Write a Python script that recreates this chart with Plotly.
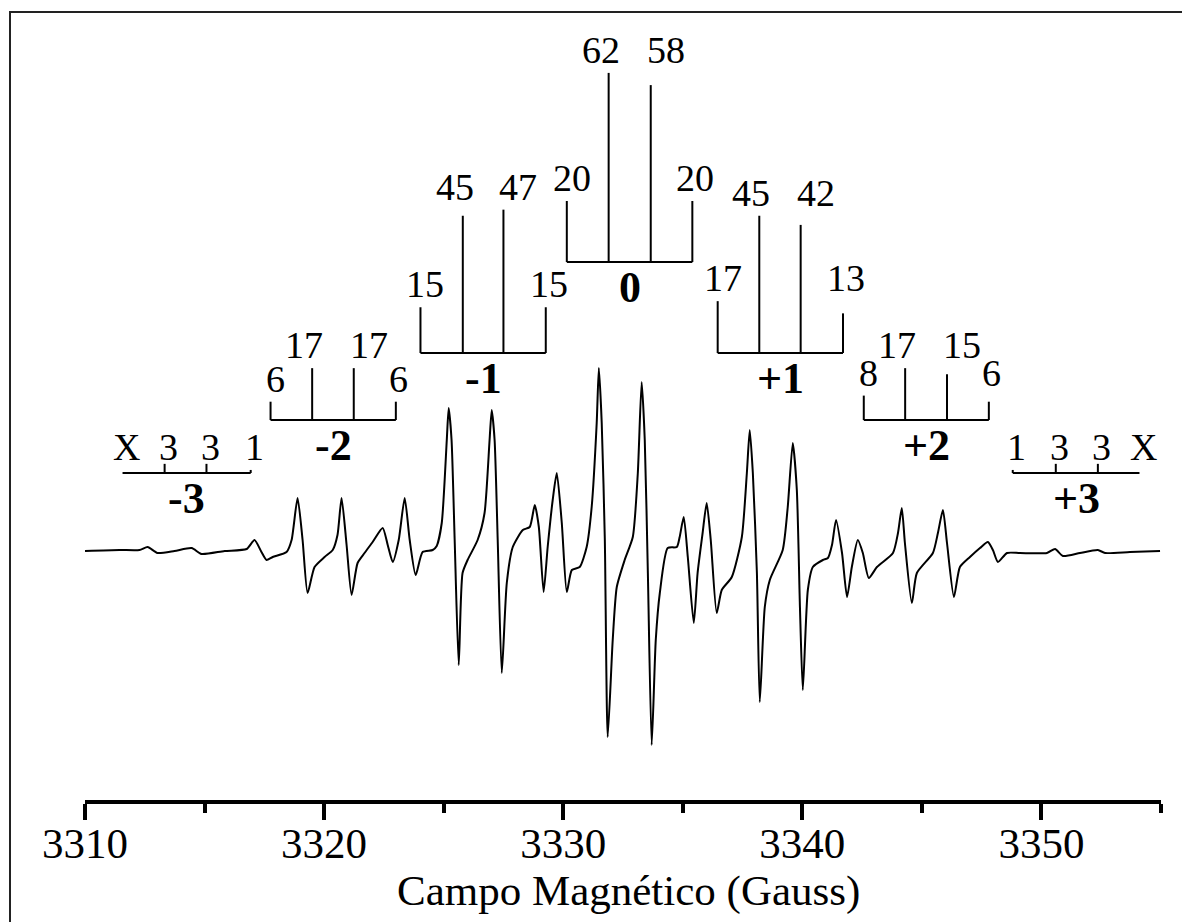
import plotly.graph_objects as go

# ---------------- data ----------------
# EPR spectrum (first derivative); arbitrary amplitude units
field = [3310.00, 3311.44, 3312.28, 3312.62, 3313.03, 3313.74, 3314.46, 3314.87, 3315.84, 3316.76,
         3317.09, 3317.38, 3317.59, 3317.85, 3318.43, 3318.64, 3318.89, 3319.10, 3319.31, 3319.60,
         3320.02, 3320.36, 3320.56, 3320.73, 3320.94, 3321.15, 3321.40, 3321.69, 3322.03, 3322.45,
         3322.66, 3322.87, 3323.12, 3323.37, 3323.58, 3323.83, 3324.12, 3324.54, 3324.71, 3324.92,
         3325.13, 3325.21, 3325.33, 3325.46, 3325.63, 3325.79, 3326.00, 3326.42, 3326.71, 3326.92,
         3327.01, 3327.13, 3327.26, 3327.43, 3327.64, 3327.89, 3328.31, 3328.60, 3328.81, 3328.98,
         3329.18, 3329.35, 3329.56, 3329.73, 3329.94, 3330.15, 3330.36, 3330.69, 3330.98, 3331.19,
         3331.40, 3331.49, 3331.61, 3331.74, 3331.86, 3332.07, 3332.24, 3332.57, 3332.91, 3333.12,
         3333.28, 3333.41, 3333.54, 3333.70, 3333.87, 3334.04, 3334.37, 3334.75, 3334.87, 3335.04,
         3335.21, 3335.46, 3335.62, 3335.83, 3336.00, 3336.17, 3336.42, 3336.63, 3337.05, 3337.47,
         3337.68, 3337.80, 3337.93, 3338.10, 3338.22, 3338.43, 3338.64, 3339.18, 3339.39, 3339.60,
         3339.77, 3339.90, 3340.02, 3340.23, 3340.44, 3340.86, 3341.07, 3341.24, 3341.41, 3341.66,
         3341.87, 3342.07, 3342.32, 3342.53, 3342.78, 3343.12, 3343.79, 3344.00, 3344.16, 3344.29,
         3344.58, 3344.79, 3345.46, 3345.67, 3345.88, 3346.05, 3346.34, 3346.59, 3347.01, 3347.43,
         3347.76, 3347.97, 3348.18, 3348.56, 3349.10, 3350.23, 3350.57, 3350.90, 3351.61, 3352.36,
         3352.66, 3353.70, 3354.96]
signal = [-1, 0, 0, 3, -3, -1, 2, -4, -1, 1,
          10, -2, -10, -7, -2, 10, 52, 10, -43, -17,
          -7, 0, 15, 52, 5, -45, -13, -3, 8, 22,
          5, -12, 10, 52, 10, -25, -2, 0, 4, 27,
          110, 142, 110, 10, -115, -23, -10, 10, 37, 110,
          140, 110, 10, -123, -33, 3, 20, 23, 45, 23,
          -42, 3, 50, 77, 27, -42, -20, -17, 3, 43,
          127, 182, 127, 10, -187, -90, -37, -10, 13, 77,
          168, 110, -23, -195, -90, -43, 2, 3, 13, 33,
          -7, -73, -23, 17, 47, 10, -63, -40, -27, 13,
          77, 120, 77, -23, -152, -57, -30, 0, 43, 107,
          60, -57, -140, -40, -17, -10, -8, 5, 30, -3,
          -47, -17, 10, -3, -28, -17, -3, 17, 42, 7,
          -53, -23, -3, 17, 40, 7, -47, -17, -7, 2,
          8, 0, -12, -3, -3, -3, 1, -6, -3, 0,
          -3, -2, -1]

# Stick diagrams: line positions (Gauss), relative intensities, labels
group_names = ["-3", "-2", "-1", "0", "+1", "+2", "+3"]
group_fields = [
    [3311.57, 3313.33, 3315.08, 3316.93],
    [3317.76, 3319.50, 3321.24, 3323.00],
    [3324.03, 3325.80, 3327.50, 3329.27],
    [3330.15, 3331.90, 3333.66, 3335.40],
    [3336.46, 3338.20, 3339.93, 3341.70],
    [3342.57, 3344.30, 3346.05, 3347.80],
    [3348.80, 3350.60, 3352.36, 3354.10],
]
group_intensity = [
    [0, 3, 3, 1],
    [6, 17, 17, 6],
    [15, 45, 47, 15],
    [20, 62, 58, 20],
    [17, 45, 42, 13],
    [8, 17, 15, 6],
    [1, 3, 3, 0],
]
group_labels = [
    ["X", "3", "3", "1"],
    ["6", "17", "17", "6"],
    ["15", "45", "47", "15"],
    ["20", "62", "58", "20"],
    ["17", "45", "42", "13"],
    ["8", "17", "15", "6"],
    ["1", "3", "3", "X"],
]

x_range = [3310, 3355]

# ---------------- layout constants ----------------
FONT = "Liberation Serif, Times New Roman, serif"
OFF = 8                       # page body margin
W, H = 1190 - OFF, 922 - OFF
ML, MR, MT, MB = 85 - OFF, 29, 20 - OFF, 122
Y_RANGE = [-250, 530]
STICK_SCALE = 3.05
BASELINES = {"-3": 77, "-2": 130, "-1": 197, "0": 288, "+1": 197, "+2": 130, "+3": 77}
LABEL_XSHIFT = [5, -8, 15, 3]

pw = W - ML - MR
ph = H - MT - MB


def px_x(page_x):
    return (page_x - OFF - ML) / pw


def px_y(page_y):
    return (H - MB - (page_y - OFF)) / ph


fig = go.Figure()

fig.add_trace(go.Scatter(x=field, y=signal, mode="lines",
                         line=dict(color="black", width=2, shape="spline", smoothing=0.6),
                         hoverinfo="skip", showlegend=False))

annotations = []
for name, xs, ints, labs in zip(group_names, group_fields, group_intensity, group_labels):
    base = BASELINES[name]
    sx, sy = [xs[0], xs[-1], None], [base, base, None]
    for x, v in zip(xs, ints):
        if v > 0:
            sx += [x, x, None]
            sy += [base, base + v * STICK_SCALE, None]
    fig.add_trace(go.Scatter(x=sx, y=sy, mode="lines",
                             line=dict(color="black", width=2),
                             hoverinfo="skip", showlegend=False))
    row = "X" in labs
    top = max(ints)
    n = len(ints)
    for i, (x, v, lab) in enumerate(zip(xs, ints, labs)):
        if row:
            yy, ys, xsft = base + top * STICK_SCALE, -6, 4
        else:
            pair = max(ints[i], ints[n - 1 - i])   # symmetric pair shares a label row
            yy, ys, xsft = base + pair * STICK_SCALE, 0, LABEL_XSHIFT[i]
        annotations.append(dict(x=x, y=yy, xref="x", yref="y", text=lab,
                                showarrow=False, xanchor="center", yanchor="bottom",
                                xshift=xsft, yshift=ys,
                                font=dict(family=FONT, size=38, color="black")))
    annotations.append(dict(x=(xs[0] + xs[-1]) / 2, y=base, xref="x", yref="y",
                            text="<b>" + name + "</b>", showarrow=False,
                            xanchor="center", yanchor="middle", yshift=-25,
                            font=dict(family=FONT, size=44, color="black")))

annotations.append(dict(x=px_x(628), y=px_y(891), xref="paper", yref="paper",
                        text="Campo Magnético (Gauss)", showarrow=False,
                        xanchor="center", yanchor="middle",
                        font=dict(family=FONT, size=43, color="black")))

fig.update_layout(
    width=W, height=H,
    margin=dict(l=ML, r=MR, t=MT, b=MB, pad=0),
    paper_bgcolor="white", plot_bgcolor="white",
    annotations=annotations,
    xaxis=dict(range=x_range, showgrid=False, zeroline=False,
               showline=True, linecolor="black", linewidth=4,
               ticks="outside", ticklen=16, tickwidth=4, tickcolor="black",
               tick0=3310, dtick=10, ticklabelstandoff=-14,
               minor=dict(dtick=5, tick0=3310, ticks="outside", ticklen=9,
                          tickwidth=4, tickcolor="black"),
               tickfont=dict(family=FONT, size=43, color="black")),
    yaxis=dict(range=Y_RANGE, visible=False, showgrid=False, zeroline=False),
    shapes=[dict(type="rect", xref="paper", yref="paper",
                 x0=px_x(10), x1=px_x(1230),
                 y0=px_y(960), y1=px_y(12),
                 line=dict(color="#222", width=2), fillcolor="rgba(0,0,0,0)",
                 layer="below")],
)

fig.write_html("out.html")
